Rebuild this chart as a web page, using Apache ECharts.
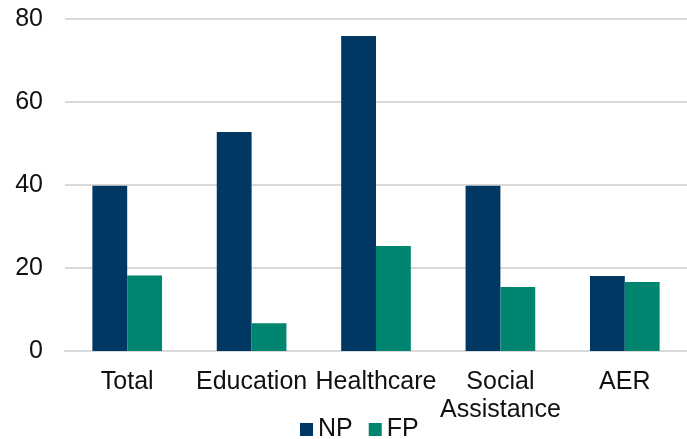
<!DOCTYPE html>
<html>
<head>
<meta charset="utf-8">
<script src="https://cdn.jsdelivr.net/npm/echarts@6/dist/echarts.min.js"></script>
<style>
  html, body { margin: 0; padding: 0; background: #fff; }
  #chart { width: 687px; height: 439px; }
</style>
</head>
<body>
<div id="chart"></div>
<script>
// 数据
var categories = ['Total', 'Education', 'Healthcare', 'Social\nAssistance', 'AER'];
var npValues = [39.8, 52.8, 75.9, 39.8, 18.1];
var fpValues = [18.2, 6.7, 25.3, 15.4, 16.6];
var yTicks = { min: 0, max: 80, interval: 20 };

var chart = echarts.init(document.getElementById('chart'));
var option = {
  color: ['#003863', '#008571'],
  textStyle: { fontFamily: '"Liberation Sans", Arial, sans-serif' },
  grid: { left: 65, right: 0, top: 19, bottom: 88 },
  legend: {
    bottom: -8,
    left: 295,
    itemWidth: 13,
    itemHeight: 13,
    itemGap: 16,
    icon: 'rect',
    textStyle: { fontSize: 25, color: '#111' },
    data: ['NP', 'FP']
  },
  xAxis: {
    type: 'category',
    data: categories,
    axisTick: { show: false },
    axisLine: { lineStyle: { color: '#d9d9d9', width: 2 } },
    axisLabel: { fontSize: 25, color: '#111', margin: 17, lineHeight: 28, interval: 0 }
  },
  yAxis: {
    type: 'value',
    min: yTicks.min,
    max: yTicks.max,
    interval: yTicks.interval,
    axisLabel: { fontSize: 25, color: '#111', margin: 22 },
    splitLine: { lineStyle: { color: '#d9d9d9', width: 2 } }
  },
  series: [
    { name: 'NP', type: 'bar', data: npValues, barWidth: '28%', barGap: '0%' },
    { name: 'FP', type: 'bar', data: fpValues, barWidth: '28%', barGap: '0%' }
  ]
};
chart.setOption(option);
</script>
</body>
</html>
